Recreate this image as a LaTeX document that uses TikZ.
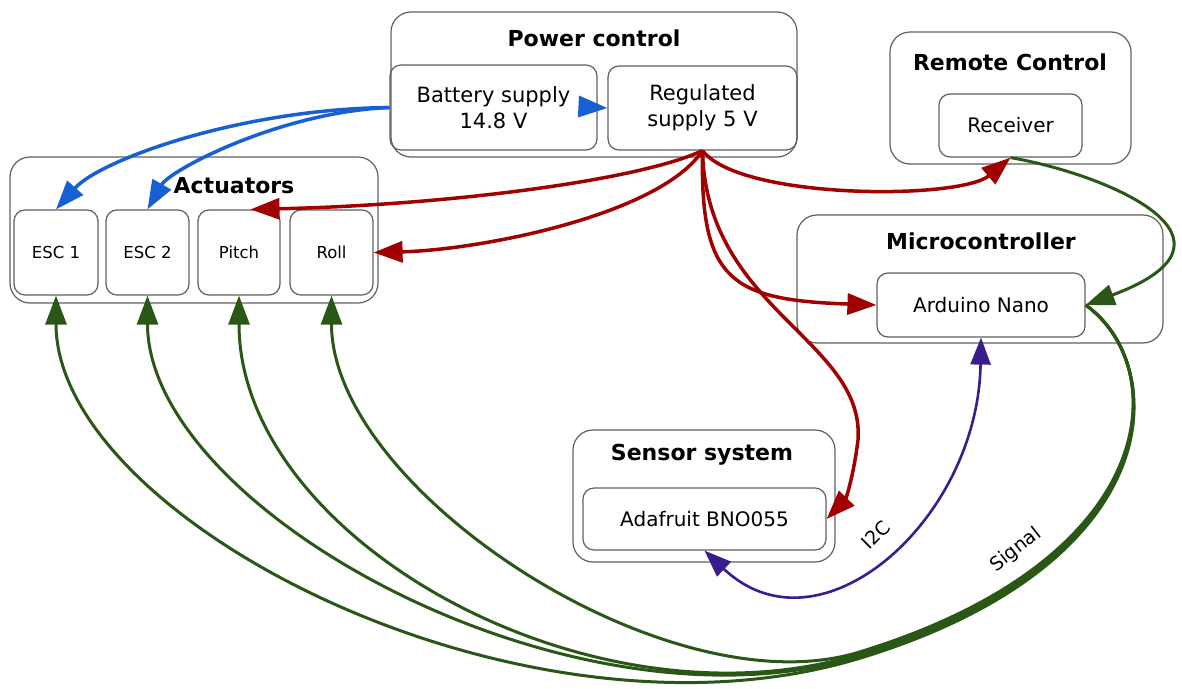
\documentclass[tikz,border=0pt]{standalone}
\usepackage{fontspec}
\setmainfont{DejaVu Sans}
\usetikzlibrary{arrows.meta}
\definecolor{boxline}{RGB}{95,95,95}
\definecolor{pred}{RGB}{160,0,0}
\definecolor{pblue}{RGB}{22,96,212}
\definecolor{pgreen}{RGB}{43,87,22}
\definecolor{ppurple}{RGB}{58,28,140}
\tikzset{
  outerbox/.style={draw=boxline, line width=1.2pt, rounded corners=20pt, inner sep=0pt},
  inbox/.style={draw=boxline, line width=1.2pt, rounded corners=11pt, inner sep=0pt, align=center, font=\fontsize{20}{26}\selectfont},
  pwbox/.style={inbox, font=\fontsize{21}{26}\selectfont},
  smallbox/.style={inbox, font=\fontsize{16.5}{20}\selectfont},
  titletxt/.style={font=\bfseries\fontsize{22}{26}\selectfont, inner sep=0pt},
  lbl/.style={font=\fontsize{19}{22}\selectfont, inner sep=0pt},
  head/.style={-{Triangle[length=29pt,width=21pt]}},
  pwr/.style={head, draw=pred, line width=3.5pt},
  bat/.style={head, draw=pblue, line width=3.5pt},
  sig/.style={head, draw=pgreen, line width=3pt},
  bus/.style={{Triangle[length=27pt,width=20pt]}-{Triangle[length=27pt,width=20pt]}, draw=ppurple, line width=2.6pt},
}
\begin{document}
\begin{tikzpicture}[x=1pt,y=-1pt]
\useasboundingbox (0,0) rectangle (1182,688);
% Power control
\node[outerbox, minimum width=406pt, minimum height=145pt] (pc) at (594,84.5) {};
\node[titletxt] (pct) at (594,38) {Power control};
\node[pwbox, minimum width=207pt, minimum height=85pt] (bat) at (493.5,107.5) {Battery supply\\14.8 V};
\node[pwbox, minimum width=189pt, minimum height=84pt] (reg) at (702.5,108) {Regulated\\supply 5 V};
% Remote control
\node[outerbox, minimum width=241pt, minimum height=132pt] (rc) at (1010.5,98) {};
\node[titletxt] (rct) at (1010,62) {Remote Control};
\node[inbox, minimum width=143pt, minimum height=63pt] (recv) at (1010.5,125.5) {Receiver};
% Actuators
\node[outerbox, minimum width=368pt, minimum height=146pt] (act) at (194,230) {};
\node[titletxt] (actt) at (234,186) {Actuators};
\node[smallbox, minimum width=84pt, minimum height=85pt] (esc1) at (56,252.5) {ESC 1};
\node[smallbox, minimum width=83pt, minimum height=85pt] (esc2) at (147.5,252.5) {ESC 2};
\node[smallbox, minimum width=82pt, minimum height=85pt] (pitch) at (239,252.5) {Pitch};
\node[smallbox, minimum width=83pt, minimum height=85pt] (roll) at (331.5,252.5) {Roll};
% Microcontroller
\node[outerbox, minimum width=366pt, minimum height=128pt] (mc) at (980,279) {};
\node[titletxt] (mct) at (981,241) {Microcontroller};
\node[inbox, minimum width=208pt, minimum height=64pt] (ard) at (981,305) {Arduino Nano};
% Sensor system
\node[outerbox, minimum width=262pt, minimum height=132pt] (ss) at (704,496) {};
\node[titletxt] (sst) at (702,455) {Sensor system};
\node[inbox, minimum width=243pt, minimum height=62pt] (ada) at (704.5,519) {Adafruit BNO055};

% blue: battery
\draw[bat] (bat.west) .. controls (240,109) and (100,160) .. (esc1.north);
\draw[bat] (bat.west) .. controls (280,112) and (170,170) .. (esc2.north);
\draw[bat] (bat.east) -- (reg.west);

% red: regulated supply
\draw[pwr] (reg.south) .. controls (640,180) and (450,205) .. (pitch.75);
\draw[pwr] (reg.south) .. controls (660,215) and (480,250) .. (roll.east);
\draw[pwr] (reg.south) .. controls (740,200) and (960,200) .. (recv.south);
\draw[pwr] (reg.south) .. controls (700,280) and (730,300) .. (ard.west);
\draw[pwr] (reg.south) .. controls (706,310) and (865,340) .. (858,440) .. controls (853,480) and (845,500) .. (ada.east);

% green: receiver to arduino
\draw[sig] (recv.south) .. controls (1110,175) and (1260,240) .. (ard.east);

% green: signal to actuators
\draw[sig] (ard.east) .. controls (1170.5,366.5) and (1170.9,562.9) .. (860.9,657.9) .. controls (524,761) and (56,520) .. (esc1.south);
\draw[sig] (ard.east) .. controls (1170.2,365.5) and (1170.3,561) .. (860.3,656) .. controls (573.5,744) and (147.5,510) .. (esc2.south);
\draw[sig] (ard.east) .. controls (1169.8,364.5) and (1169.7,559) .. (859.7,654) .. controls (592,736) and (239,540) .. (pitch.south);
\draw[sig] (ard.east) .. controls (1169.5,363.5) and (1169.1,557.1) .. (859.1,652.1) .. controls (668,711) and (331.5,490) .. (roll.south);
\node[lbl, rotate=38] (siglbl) at (1016,550) {Signal};

% purple: I2C
\draw[bus] (ard.south) .. controls (978,520) and (820,660) .. (ada.south);
\node[lbl, rotate=45] (i2clbl) at (876,535) {I2C};
\end{tikzpicture}
\end{document}
